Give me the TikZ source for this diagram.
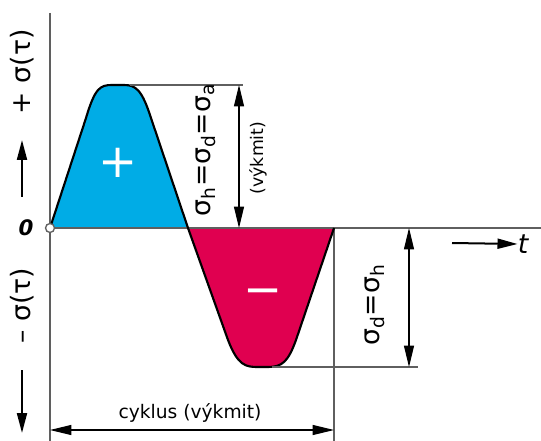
\documentclass[tikz,border=0pt]{standalone}
\usepackage{fontspec}
\setmainfont{DejaVu Sans}
\usetikzlibrary{arrows.meta}

\definecolor{kladna}{RGB}{0,172,230}
\definecolor{zaporna}{RGB}{224,0,80}
\definecolor{osa}{RGB}{95,95,95}

\begin{document}
\begin{tikzpicture}[x=0.75pt, y=-0.75pt,
    osa/.style={draw=osa, line width=1.5pt},
    pom/.style={draw=osa, line width=0.8pt},
    kota/.style={{Triangle[length=16pt,width=7.5pt]}-{Triangle[length=16pt,width=7.5pt]}, line width=0.8pt},
    sipka/.style={-{Triangle[length=15pt,width=7.5pt]}, line width=1.5pt},
    prubeh/.style={draw=black, line width=1.6pt, line join=round},
    popis/.style={inner sep=0pt, font=\fontsize{20}{20}\selectfont},
    znak/.style={inner sep=0pt, text=white, font=\fontsize{35}{35}\selectfont}
]
\useasboundingbox (0,0) rectangle (541,441);

\coordinate (O) at (50,228);
\coordinate (ytop) at (50,13);
\coordinate (ybot) at (50,441);
\coordinate (xend) at (541,228);
\coordinate (T) at (334,228);
\coordinate (Tbot) at (334,441);

\fill[kladna] (O) -- (86,118) .. controls (95,88) and (100,85) .. (112,85) -- (124,85) .. controls (136,85) and (142,90) .. (151,118) -- (188,228) -- cycle;
\fill[zaporna] (188,228) -- (228,340) .. controls (238,366) and (246,367) .. (258,367) -- (268,367) .. controls (282,367) and (288,362) .. (296,340) -- (T) -- cycle;

\draw[osa] (ytop) -- (ybot);
\draw[osa] (O) -- (xend);
\draw[osa] (T) -- (Tbot);

\draw[prubeh] (O) -- (86,118) .. controls (95,88) and (100,85) .. (112,85) -- (124,85) .. controls (136,85) and (142,90) .. (151,118) -- (188,228)
    -- (228,340) .. controls (238,366) and (246,367) .. (258,367) -- (268,367) .. controls (282,367) and (288,362) .. (296,340) -- (T);
\draw[draw=osa, fill=white, line width=1pt] (O) circle[radius=4.5];

\coordinate (hmax) at (130,85);
\coordinate (hmaxR) at (243,85);
\coordinate (dmin) at (272,367);
\coordinate (dminR) at (418,367);
\draw[pom] (hmax) -- (hmaxR);
\draw[pom] (dmin) -- (dminR);

\coordinate (a1) at (239,85);
\coordinate (a2) at (239,228);
\coordinate (b1) at (409,228);
\coordinate (b2) at (409,367);
\coordinate (c1) at (50,430);
\coordinate (c2) at (334,430);
\draw[kota] (a1) -- (a2);
\draw[kota] (b1) -- (b2);
\draw[kota] (c1) -- (c2);

\node[znak] (plus) at (118,163) {+};
\node[znak] (minus) at (263,297) {−};

\node[popis, rotate=90] (sa) at (206,150) {σ\textsubscript{h}=σ\textsubscript{d}=σ\textsubscript{a}};
\node[inner sep=0pt, rotate=90, font=\fontsize{13}{13}\selectfont] (vykmit) at (258,158) {(výkmit)};
\node[popis, rotate=90] (sd) at (375,305) {σ\textsubscript{d}=σ\textsubscript{h}};
\node[inner sep=0pt, font=\fontsize{14}{14}\selectfont] (cyklus) at (190,413) {cyklus (výkmit)};

\node[popis, rotate=90] (yplus) at (22,72) {+\,\,σ(τ)};
\node[popis, rotate=90] (yminus) at (22,306) {–\,\,σ(τ)};
\coordinate (up1) at (22,197);
\coordinate (up2) at (22,140);
\coordinate (dn1) at (22,370);
\coordinate (dn2) at (22,433);
\draw[sipka] (up1) -- (up2);
\draw[sipka] (dn1) -- (dn2);

\node[inner sep=0pt, font=\fontsize{16}{16}\selectfont\bfseries\itshape] (nula) at (26,228) {0};
\node[inner sep=0pt, font=\fontsize{20}{20}\selectfont\itshape] (t) at (523,244) {t};
\coordinate (t1) at (452,243);
\draw[sipka] (t1) -- (t.west);
\end{tikzpicture}
\end{document}
